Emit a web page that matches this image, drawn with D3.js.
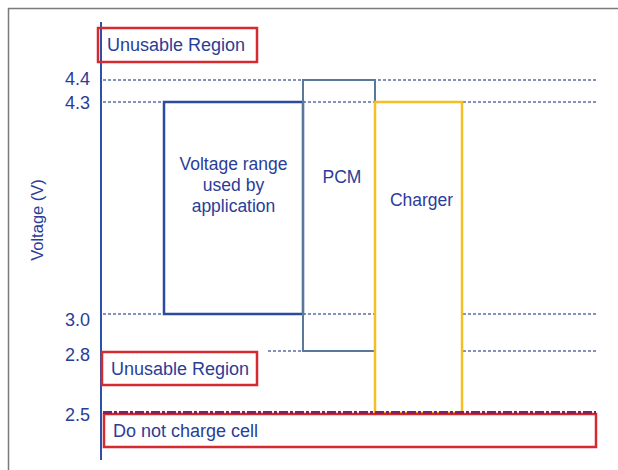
<!DOCTYPE html>
<html>
<head>
<meta charset="utf-8">
<script src="https://cdn.jsdelivr.net/npm/d3@7"></script>
<style>
  html, body { margin: 0; padding: 0; background: #fff; }
  text { font-family: "Liberation Sans", Arial, sans-serif; }
</style>
</head>
<body>
<div id="chart"></div>
<script>
// voltage levels shown on the axis (schematic, not to scale)
const levels = [4.4, 4.3, 3.0, 2.8, 2.5];
const levelLabels = ['4.4', '4.3', '3.0', '2.8', '2.5'];

// the three voltage windows
const windowNames = ['application', 'PCM', 'Charger'];
const windowLabels = [['Voltage range', 'used by', 'application'], ['PCM'], ['Charger']];
const windowLow = [3.0, 2.8, 2.5];
const windowHigh = [4.3, 4.4, 4.3];

// red-outlined notes
const noteLabels = ['Unusable Region', 'Unusable Region', 'Do not charge cell'];

const width = 618;
const height = 470;
const blue = '#2a3d98';
const red = '#d42a30';

const svg = d3.select('#chart').append('svg')
    .attr('width', width)
    .attr('height', height);

// outer frame
svg.append('path')
    .attr('d', 'M8.5,470 L8.5,8.5 L618,8.5')
    .attr('fill', 'none')
    .attr('stroke', '#7a7a7a')
    .attr('stroke-width', 1.5);

// piecewise y scale, the picture is a schematic
const y = d3.scaleLinear()
    .domain([2.5, 2.8, 3.0, 4.3, 4.4])
    .range([413, 351, 314, 102, 80]);

// column edges for the windows
const x = d3.scaleLinear().domain([0, 1, 2, 3]).range([164, 303, 375, 462]);

const axisX = 101;
const rightEdge = 596;

// dotted reference lines
const guides = levels.filter(v => v !== 2.5);
svg.append('g')
    .selectAll('line')
    .data(guides)
    .join('line')
    .attr('x1', d => (d === 2.8 ? 268 : axisX + 2))
    .attr('x2', rightEdge)
    .attr('y1', d => y(d))
    .attr('y2', d => y(d))
    .attr('stroke', '#5a6fa8')
    .attr('stroke-width', 1.3)
    .attr('stroke-dasharray', '3,2');

// window boxes
const boxStyle = [
    { stroke: '#2b4aa0', fill: 'none', w: 2.5 },
    { stroke: '#5a7898', fill: 'none', w: 2 },
    { stroke: '#f4bf22', fill: '#fff', w: 2.5 },
];
const windows = windowNames.map((name, i) => ({
    name, i, lo: windowLow[i], hi: windowHigh[i], label: windowLabels[i],
}));

svg.append('g')
    .selectAll('rect')
    .data(windows)
    .join('rect')
    .attr('x', d => x(d.i))
    .attr('y', d => y(d.hi))
    .attr('width', d => x(d.i + 1) - x(d.i))
    .attr('height', d => y(d.lo) - y(d.hi))
    .attr('fill', d => boxStyle[d.i].fill)
    .attr('stroke', d => boxStyle[d.i].stroke)
    .attr('stroke-width', d => boxStyle[d.i].w);

// window labels
const labelTop = [170, 183, 206];
windows.forEach(d => {
    const cx = (x(d.i) + x(d.i + 1)) / 2 + (d.i === 0 ? 0 : 3);
    const t = svg.append('text')
        .attr('x', cx)
        .attr('y', labelTop[d.i])
        .attr('text-anchor', 'middle')
        .attr('fill', blue)
        .attr('font-size', 17.5);
    d.label.forEach((line, k) => {
        t.append('tspan')
            .attr('x', cx)
            .attr('dy', k === 0 ? 0 : 21)
            .text(line);
    });
});

// y axis
svg.append('line')
    .attr('x1', axisX).attr('x2', axisX)
    .attr('y1', 22).attr('y2', 460)
    .attr('stroke', '#3050a8')
    .attr('stroke-width', 2);

const labelNudge = { 4.4: -1, 4.3: 1, 3.0: 6, 2.8: 4, 2.5: 2 };
const axis = d3.axisLeft(y)
    .tickValues(levels)
    .tickSize(0)
    .tickPadding(11)
    .tickFormat((d, i) => levelLabels[i]);

const axisG = svg.append('g')
    .attr('transform', `translate(${axisX},0)`)
    .call(axis);
axisG.select('.domain').remove();
axisG.selectAll('text')
    .attr('fill', blue)
    .attr('font-size', 18)
    .attr('font-family', '"Liberation Sans", Arial, sans-serif')
    .attr('transform', d => `translate(0,${labelNudge[d]})`);

svg.append('text')
    .attr('transform', 'translate(43,220) rotate(-90)')
    .attr('text-anchor', 'middle')
    .attr('fill', blue)
    .attr('font-size', 16.5)
    .text('Voltage (V)');

// red note boxes
const notes = [
    { label: noteLabels[0], x0: 98, x1: 257, y0: 28, y1: 62 },
    { label: noteLabels[1], x0: 102, x1: 257, y0: 352, y1: 385 },
    { label: noteLabels[2], x0: 104, x1: rightEdge, y0: y(2.5) + 1, y1: 447 },
];

svg.append('g')
    .selectAll('rect')
    .data(notes)
    .join('rect')
    .attr('x', d => d.x0)
    .attr('y', d => d.y0)
    .attr('width', d => d.x1 - d.x0)
    .attr('height', d => d.y1 - d.y0)
    .attr('fill', 'none')
    .attr('stroke', red)
    .attr('stroke-width', 2.5);

svg.append('g')
    .selectAll('text')
    .data(notes)
    .join('text')
    .attr('x', d => d.x0 + 9)
    .attr('y', d => (d.y0 + d.y1) / 2 + 6)
    .attr('fill', blue)
    .attr('font-size', 18)
    .text(d => d.label);

// 2.5 V cut-off line
svg.append('line')
    .attr('x1', axisX + 2).attr('x2', rightEdge)
    .attr('y1', y(2.5) - 0.5).attr('y2', y(2.5) - 0.5)
    .attr('stroke', '#7a2468')
    .attr('stroke-width', 3)
    .attr('stroke-dasharray', '9,2,3,2');
</script>
</body>
</html>
